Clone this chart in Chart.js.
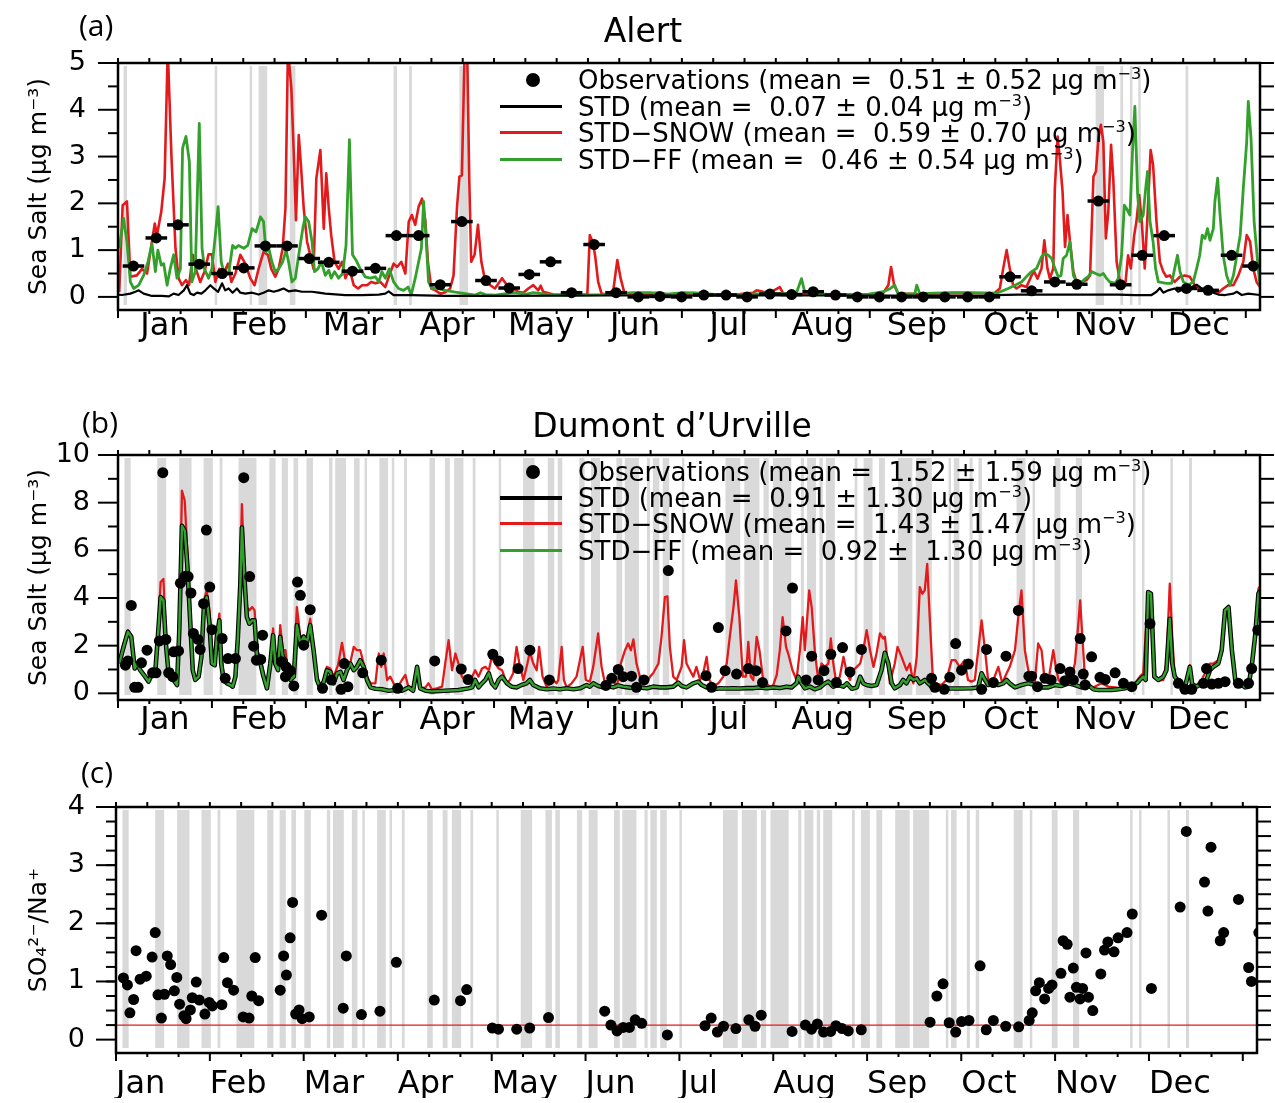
<!DOCTYPE html>
<html lang="en">
<head>
<meta charset="UTF-8">
<title>Sea salt at Alert and Dumont d'Urville</title>
<script src="https://cdn.jsdelivr.net/npm/chart.js"></script>
<style>
  body { margin: 0; background: #fff; }
  #page { position: relative; width: 1275px; height: 1103px; overflow: hidden; font-family: "DejaVu Sans", sans-serif; color: #000; }
  canvas { position: absolute; left: 0; }
  .tag { position: absolute; font: 30px/30px "Open Sans", sans-serif; }
  .title { position: absolute; font: 33px/33px "DejaVu Sans", sans-serif; transform: translateX(-50%); white-space: nowrap; }
  .leg { position: absolute; left: 578px; font: 26px/26px "DejaVu Sans", sans-serif; white-space: pre; }
  .leg sup { font-size: 0.62em; vertical-align: 0.6em; line-height: 0; }
  .swatch { position: absolute; left: 500px; width: 62px; height: 3px; }
  .dot { position: absolute; left: 526px; width: 14px; height: 14px; border-radius: 50%; background: #000; }
</style>
</head>
<body>
<div id="page">
  <canvas id="alertChart" width="1275" height="350" style="top:0"></canvas>
  <canvas id="dduChart" width="1275" height="350" style="top:390px"></canvas>
  <canvas id="ratioChart" width="1275" height="358" style="top:745px"></canvas>

  <!-- Panel (a) -->
  <div class="tag" style="left:79px; top:10px">(a)</div>
  <div class="title" style="left:643px; top:14px">Alert</div>
  <div class="dot" style="top:73px"></div>
  <div class="swatch" style="top:105px; background:#000"></div>
  <div class="swatch" style="top:131px; background:#e31a1c"></div>
  <div class="swatch" style="top:158px; background:#33a02c"></div>
  <div class="leg" style="top:67px">Observations (mean =  0.51 ± 0.52 μg m<sup>−3</sup>)</div>
  <div class="leg" style="top:94px">STD (mean =  0.07 ± 0.04 μg m<sup>−3</sup>)</div>
  <div class="leg" style="top:120px">STD−SNOW (mean =  0.59 ± 0.70 μg m<sup>−3</sup>)</div>
  <div class="leg" style="top:147px">STD−FF (mean =  0.46 ± 0.54 μg m<sup>−3</sup>)</div>

  <!-- Panel (b) -->
  <div class="tag" style="left:82px; top:407px">(b)</div>
  <div class="title" style="left:672px; top:409px">Dumont d’Urville</div>
  <div class="dot" style="top:465px"></div>
  <div class="swatch" style="top:496px; height:4px; background:#000"></div>
  <div class="swatch" style="top:522px; background:#e31a1c"></div>
  <div class="swatch" style="top:549px; background:#33a02c"></div>
  <div class="leg" style="top:459px">Observations (mean =  1.52 ± 1.59 μg m<sup>−3</sup>)</div>
  <div class="leg" style="top:485px">STD (mean =  0.91 ± 1.30 μg m<sup>−3</sup>)</div>
  <div class="leg" style="top:511px">STD−SNOW (mean =  1.43 ± 1.47 μg m<sup>−3</sup>)</div>
  <div class="leg" style="top:538px">STD−FF (mean =  0.92 ±  1.30 μg m<sup>−3</sup>)</div>

  <!-- Panel (c) -->
  <div class="tag" style="left:81px; top:757px">(c)</div>
</div>

<script>
// ---- axis data ----
const monthNames = ['Jan', 'Feb', 'Mar', 'Apr', 'May', 'Jun', 'Jul', 'Aug', 'Sep', 'Oct', 'Nov', 'Dec'];
const monthStarts = [0, 30.4, 60.8, 91.3, 121.7, 152.1, 182.5, 212.9, 243.3, 273.8, 304.2, 334.6, 365];
const xMax = 369.6;

// ---- (a) Alert ----
const alertObsDay = [5.0, 12.4, 19.4, 26.3, 33.7, 40.7, 47.7, 54.7, 61.9, 68.2,
  75.9, 83.3, 90.1, 97.3, 104.3, 111.3, 119.1, 126.6, 133.1, 140.0,
  146.8, 154.1, 161.2, 168.4, 175.4, 182.4, 189.6, 196.8, 203.6, 211.0,
  218.0, 225.0, 232.2, 239.3, 246.4, 253.6, 260.6, 267.6, 275.0, 282.0,
  288.7, 295.7, 303.2, 310.3, 317.3, 324.5, 331.5, 338.6, 345.8, 352.8,
  360.4, 367.4];
const alertObsVal = [0.66, 1.26, 1.54, 0.70, 0.50, 0.62, 1.09, 1.09, 0.82, 0.74,
  0.55, 0.61, 1.31, 1.31, 0.26, 1.61, 0.35, 0.19, 0.48, 0.75,
  0.09, 1.12, 0.09, 0.00, 0.01, 0.00, 0.04, 0.04, 0.00, 0.06,
  0.05, 0.11, 0.04, 0.00, 0.00, 0.00, 0.00, 0.00, 0.00, 0.00,
  0.43, 0.13, 0.32, 0.27, 2.05, 0.26, 0.89, 1.31, 0.18, 0.14,
  0.89, 0.66];
const alertObsHalfWeek = 3.5;

const alertStdDay = [0, 1.3, 4.0, 5.6, 6.7, 8.3, 11.0, 14.2, 16.4, 18.0,
  19.6, 21.3, 22.3, 23.4, 24.5, 25.6, 27.0, 28.3, 29.9, 31.0,
  32.4, 33.7, 34.7, 35.8, 37.1, 38.5, 39.6, 41.2, 43.4, 45.5,
  47.1, 48.8, 50.4, 52.0, 53.6, 55.2, 57.4, 59.5, 62.8, 64.9,
  67.1, 69.3, 73.6, 79.0, 84.4, 86.5, 87.6, 89.2, 95.1, 105.9,
  125.9, 160.0, 200.0, 250.0, 280.6, 283.8, 291.3, 302.2, 313.0, 323.7,
  329.1, 334.5, 336.1, 337.2, 338.3, 339.9, 342.0, 343.1, 345.3, 347.5,
  349.1, 350.7, 352.3, 354.5, 356.1, 358.3, 361.0, 362.1, 363.7, 365.8,
  369.6];
const alertStdVal = [0.05, 0.04, 0.07, 0.11, 0.14, 0.07, 0.02, 0.02, 0.01, 0.07,
  0.04, 0.14, 0.25, 0.07, 0.04, 0.09, 0.07, 0.14, 0.25, 0.18,
  0.11, 0.29, 0.14, 0.18, 0.09, 0.18, 0.09, 0.07, 0.09, 0.05,
  0.09, 0.14, 0.11, 0.14, 0.18, 0.12, 0.14, 0.11, 0.11, 0.09,
  0.07, 0.06, 0.04, 0.04, 0.05, 0.07, 0.12, 0.04, 0.04, 0.02,
  0.02, 0.03, 0.03, 0.03, 0.02, 0.04, 0.05, 0.05, 0.05, 0.05,
  0.04, 0.04, 0.11, 0.19, 0.09, 0.14, 0.18, 0.11, 0.18, 0.21,
  0.26, 0.18, 0.14, 0.09, 0.05, 0.04, 0.07, 0.11, 0.04, 0.07,
  0.04];

const alertSnowDay = [0.4, 1.5, 2.9, 4.0, 6.1, 7.8, 9.4, 11.9, 12.6, 14.0,
  15.1, 16.1, 17.3, 18.6, 19.6, 20.7, 22.0, 23.0, 24.2, 25.2,
  26.6, 28.0, 29.3, 30.4, 31.5, 32.8, 34.2, 35.6, 36.7, 38.0,
  39.6, 41.2, 42.8, 44.2, 45.5, 47.1, 48.5, 49.6, 50.9, 52.0,
  53.3, 54.2, 55.0, 56.1, 56.9, 57.6, 58.5, 59.2, 60.1, 61.2,
  62.2, 63.3, 64.2, 65.5, 66.6, 67.4, 68.2, 69.0, 70.1, 71.4,
  72.5, 73.6, 74.9, 76.3, 77.7, 79.0, 80.6, 81.9, 83.3, 84.9,
  86.5, 87.8, 89.2, 90.3, 91.7, 93.0, 94.1, 95.1, 96.2, 97.3,
  98.4, 99.5, 100.3, 101.4, 102.7, 104.3, 105.9, 107.5, 108.6, 109.7,
  110.5, 111.3, 112.2, 113.0, 113.7, 114.3, 115.4, 116.5, 117.6, 118.9,
  120.5, 122.0, 124.3, 125.9, 127.9, 129.5, 131.2, 132.8, 134.4, 136.0,
  136.8, 137.6, 140.9, 145.2, 151.9, 152.7, 153.6, 154.4, 155.4, 156.5,
  158.1, 160.3, 161.6, 162.7, 163.8, 165.7, 172.2, 174.3, 178.6, 186.2,
  192.6, 201.3, 205.6, 206.7, 208.8, 211.0, 214.2, 215.3, 222.8, 231.5,
  242.2, 247.7, 249.3, 250.2, 251.2, 252.5, 259.0, 269.8, 280.6, 283.8,
  285.4, 286.5, 287.6, 288.6, 289.7, 290.8, 292.4, 294.0, 295.7, 296.5,
  297.6, 298.9, 299.8, 300.8, 301.6, 302.7, 303.2, 304.1, 304.8, 305.7,
  306.5, 307.3, 308.1, 309.2, 310.2, 311.9, 313.5, 314.6, 315.7, 316.5,
  317.3, 318.1, 318.9, 319.7, 320.5, 321.4, 322.1, 323.2, 324.3, 325.3,
  326.1, 326.9, 327.8, 328.9, 329.6, 330.5, 331.3, 332.3, 333.2, 334.2,
  335.0, 336.1, 337.2, 338.3, 339.3, 340.4, 342.0, 343.7, 345.3, 346.9,
  348.5, 350.1, 351.8, 353.9, 356.1, 357.7, 359.3, 361.0, 362.6, 364.2,
  365.3, 366.4, 367.4, 368.5, 369.6];
const alertSnowVal = [0.10, 1.96, 2.04, 0.43, 0.46, 0.60, 0.50, 1.57, 1.32, 1.82,
  2.54, 5.30, 3.00, 1.04, 0.40, 0.25, 0.36, 0.25, 0.90, 0.60,
  0.32, 0.54, 0.91, 0.91, 0.32, 0.60, 0.50, 0.71, 0.32, 0.50,
  0.90, 0.71, 0.40, 0.25, 0.60, 0.96, 0.90, 0.60, 0.43, 0.60,
  1.04, 1.90, 5.30, 4.46, 3.04, 1.64, 3.46, 2.82, 1.90, 1.18,
  0.90, 0.60, 2.54, 3.14, 1.46, 2.64, 1.90, 1.32, 0.75, 0.60,
  0.75, 0.40, 0.60, 0.25, 0.18, 0.25, 0.25, 0.32, 0.29, 0.32,
  0.21, 0.46, 0.71, 0.64, 0.75, 0.50, 1.61, 1.75, 1.54, 1.93,
  2.10, 1.61, 0.75, 0.18, 0.14, 0.07, 0.10, 0.18, 0.46, 1.90,
  2.57, 2.60, 5.30, 5.30, 2.46, 0.75, 0.90, 1.54, 0.75, 0.32,
  0.25, 0.18, 0.40, 0.25, 0.18, 0.11, 0.09, 0.18, 0.25, 0.14,
  0.24, 0.11, 0.05, 0.04, 0.05, 1.32, 1.18, 0.89, 0.32, 0.07,
  0.05, 0.14, 0.79, 0.39, 0.11, 0.05, 0.06, 0.09, 0.05, 0.08,
  0.05, 0.06, 0.09, 0.14, 0.11, 0.09, 0.21, 0.07, 0.05, 0.05,
  0.05, 0.09, 0.25, 0.64, 0.25, 0.07, 0.06, 0.08, 0.08, 0.09,
  0.18, 0.61, 1.00, 0.61, 0.25, 0.18, 0.25, 0.21, 0.46, 0.54,
  0.39, 0.61, 1.21, 0.61, 0.39, 0.61, 2.32, 3.43, 2.96, 2.25,
  1.07, 1.75, 1.18, 0.54, 0.32, 0.32, 0.36, 0.46, 2.57, 2.68,
  3.39, 3.68, 3.32, 1.25, 1.82, 3.25, 2.54, 0.75, 0.32, 0.25,
  0.32, 0.89, 0.61, 1.32, 1.61, 2.18, 1.64, 0.61, 1.75, 3.14,
  2.82, 1.61, 0.75, 0.54, 0.43, 0.46, 0.32, 0.43, 0.46, 0.43,
  0.25, 0.18, 0.18, 0.11, 0.09, 0.18, 0.25, 0.25, 0.46, 0.75,
  1.32, 1.18, 0.61, 0.32, 0.21];

const alertFfDay = [0.4, 1.8, 2.9, 4.0, 5.1, 6.7, 8.3, 9.7, 11.0, 12.1,
  12.9, 14.0, 14.8, 15.9, 16.9, 18.0, 19.1, 20.2, 20.9, 22.0,
  23.1, 23.9, 25.0, 26.3, 27.2, 28.0, 29.3, 30.4, 31.5, 32.4,
  33.4, 34.5, 35.8, 37.1, 38.0, 39.0, 40.7, 42.0, 43.4, 44.7,
  46.1, 47.1, 47.9, 48.8, 49.8, 50.9, 52.0, 53.3, 54.4, 55.2,
  56.3, 57.4, 58.5, 59.8, 60.6, 61.7, 62.8, 63.6, 64.7, 65.8,
  67.1, 68.2, 69.0, 70.1, 71.4, 72.7, 73.8, 74.9, 75.9, 77.0,
  78.4, 80.0, 81.7, 83.3, 84.4, 85.4, 86.5, 87.8, 89.2, 90.8,
  92.4, 93.9, 94.9, 96.2, 97.3, 98.2, 98.9, 99.7, 100.5, 101.6,
  103.8, 105.9, 109.2, 112.4, 115.6, 117.3, 118.9, 122.1, 127.9, 132.2,
  134.4, 139.8, 145.2, 156.0, 166.8, 172.2, 177.6, 183.0, 188.4, 193.8,
  199.2, 204.5, 209.9, 215.3, 219.6, 221.2, 222.3, 226.0, 231.5, 242.2,
  247.7, 250.0, 251.4, 252.5, 254.7, 257.9, 258.5, 259.5, 264.4, 269.8,
  275.2, 280.6, 283.8, 286.0, 288.1, 290.3, 292.4, 294.4, 295.7, 297.3,
  298.9, 300.0, 301.1, 302.2, 303.2, 304.3, 305.2, 305.9, 307.0, 308.1,
  309.2, 310.2, 311.9, 313.0, 314.0, 315.1, 316.4, 317.8, 318.9, 320.0,
  321.0, 322.7, 323.7, 324.8, 325.7, 326.4, 327.5, 328.3, 329.1, 330.0,
  330.7, 331.8, 332.6, 333.2, 334.0, 335.0, 335.8, 336.7, 339.3, 341.0,
  342.0, 342.9, 343.7, 344.8, 346.4, 348.0, 349.1, 350.1, 350.9, 351.8,
  352.6, 353.4, 354.5, 355.0, 355.9, 356.6, 357.7, 358.8, 359.9, 361.0,
  362.1, 363.2, 364.2, 365.3, 365.8, 366.7, 367.7, 369.0, 369.6];
const alertFfVal = [1.04, 1.68, 1.18, 0.32, 0.18, 0.25, 0.46, 0.75, 1.14, 0.54,
  1.00, 0.68, 0.71, 0.25, 0.60, 0.90, 0.40, 0.60, 3.18, 3.43,
  2.89, 0.32, 0.54, 3.71, 1.04, 0.60, 0.40, 0.60, 1.32, 1.93,
  0.75, 0.46, 0.50, 1.10, 1.04, 1.10, 1.04, 1.10, 1.46, 1.39,
  1.71, 1.61, 0.96, 1.04, 0.75, 0.54, 0.60, 0.75, 1.00, 0.75,
  0.32, 0.40, 0.90, 1.46, 1.71, 1.61, 1.18, 0.54, 0.60, 0.75,
  0.46, 0.57, 0.40, 0.54, 0.40, 0.50, 1.10, 3.36, 0.90, 0.79,
  0.60, 0.43, 0.40, 0.43, 0.32, 0.54, 0.40, 0.60, 0.32, 0.18,
  0.14, 0.21, 0.04, 0.40, 0.75, 1.04, 2.04, 1.25, 0.32, 0.18,
  0.18, 0.14, 0.10, 0.07, 0.04, 0.09, 0.05, 0.04, 0.09, 0.06,
  0.09, 0.05, 0.04, 0.05, 0.09, 0.09, 0.06, 0.09, 0.08, 0.05,
  0.05, 0.06, 0.07, 0.07, 0.09, 0.39, 0.09, 0.07, 0.05, 0.05,
  0.11, 0.18, 0.25, 0.06, 0.06, 0.07, 0.25, 0.07, 0.08, 0.09,
  0.09, 0.08, 0.07, 0.12, 0.18, 0.25, 0.32, 0.46, 0.54, 0.61,
  0.86, 0.93, 0.89, 0.82, 0.61, 0.43, 0.46, 0.82, 0.89, 1.18,
  0.46, 0.32, 0.32, 0.39, 0.43, 0.54, 0.50, 0.46, 0.50, 0.39,
  0.32, 0.29, 0.39, 0.89, 1.96, 1.89, 1.75, 3.04, 4.07, 2.18,
  1.61, 1.75, 2.32, 2.68, 1.61, 1.18, 0.61, 0.32, 0.29, 0.29,
  0.61, 0.89, 0.54, 0.32, 0.25, 0.32, 0.61, 0.89, 1.32, 1.25,
  1.46, 1.21, 1.46, 2.04, 2.54, 1.82, 0.89, 0.46, 0.25, 0.46,
  0.89, 1.32, 2.32, 3.32, 4.18, 3.39, 1.61, 0.61, 0.25];

const alertBandStart = [1.8, 31.3, 42.6, 45.5, 55.6, 89.2, 94.2, 110.5, 316.4, 324.4, 327.5, 330.2, 345.5];
const alertBandEnd = [2.9, 32.1, 43.4, 48.3, 57.4, 90.3, 95.1, 113.3, 319.1, 325.3, 328.3, 331.0, 346.4];

// ---- (b) Dumont d'Urville ----
const dduObsDay = [2.4, 3.2, 4.3, 5.4, 6.5, 7.6, 9.4, 11.2, 12.3, 13.4,
  14.5, 15.5, 16.4, 17.7, 18.0, 19.6, 20.2, 21.6, 22.7, 23.6,
  24.4, 25.9, 26.6, 27.7, 28.6, 29.7, 30.4, 33.7, 34.7, 35.6,
  38.0, 40.7, 42.6, 43.9, 44.8, 46.2, 46.8, 52.9, 54.2, 54.4,
  55.8, 56.9, 58.1, 59.0, 60.1, 62.2, 66.2, 69.0, 72.2, 73.2,
  74.4, 79.2, 85.2, 90.5, 102.5, 111.1, 113.3, 121.3, 123.2, 129.5,
  133.3, 139.6, 157.9, 159.8, 161.9, 163.5, 166.2, 167.8, 170.2, 178.1,
  190.3, 192.1, 194.3, 196.5, 200.2, 204.0, 206.5, 208.6, 216.2, 218.3,
  222.7, 224.5, 226.6, 228.5, 230.7, 232.5, 234.5, 236.9, 240.6, 263.3,
  264.4, 267.4, 269.2, 271.1, 273.0, 275.2, 279.5, 281.1, 283.3, 287.4,
  291.4, 294.8, 295.7, 297.6, 300.0, 302.0, 304.9, 306.5, 308.1, 309.2,
  311.4, 312.4, 313.0, 315.1, 317.8, 319.5, 322.7, 325.4, 328.1, 334.0,
  343.2, 345.3, 347.5, 351.3, 352.3, 354.0, 356.1, 358.3, 362.6, 365.9,
  366.9, 368.9];
const dduObsVal = [1.18, 1.36, 3.69, 0.25, 0.25, 1.28, 1.81, 0.86, 0.86, 2.20,
  9.26, 2.26, 0.86, 0.70, 1.74, 1.78, 4.62, 4.90, 4.90, 4.21,
  2.51, 2.26, 1.84, 3.76, 6.85, 4.46, 2.67, 2.30, 0.63, 1.46,
  1.46, 9.05, 4.90, 1.98, 1.39, 1.42, 2.44, 1.32, 0.70, 1.11,
  0.95, 0.31, 4.67, 4.11, 2.02, 3.51, 0.21, 0.56, 0.17, 1.25,
  0.28, 0.86, 1.39, 0.21, 1.36, 1.02, 0.58, 1.64, 1.36, 1.04,
  1.81, 0.56, 0.33, 0.63, 1.00, 0.70, 0.72, 0.25, 0.56, 5.15,
  0.74, 0.25, 2.76, 0.95, 0.81, 1.04, 0.95, 0.45, 2.62, 4.42,
  0.56, 1.56, 0.56, 0.95, 1.64, 0.45, 1.92, 0.90, 1.84, 0.63,
  0.25, 0.17, 0.67, 2.09, 0.97, 1.23, 0.17, 1.84, 0.45, 1.56,
  3.48, 0.72, 0.72, 0.28, 0.63, 0.56, 1.04, 0.53, 0.90, 0.56,
  2.30, 0.81, 0.35, 1.53, 0.67, 0.58, 0.86, 0.42, 0.28, 2.92,
  0.42, 0.17, 0.17, 0.42, 1.04, 0.39, 0.42, 0.49, 0.42, 0.42,
  1.04, 2.65];

// STD and STD-FF share the same model days
const dduModelDay = [0.4, 1.8, 3.2, 4.3, 5.4, 6.1, 7.2, 8.8, 9.9, 11.0,
  12.1, 12.9, 13.8, 14.7, 15.5, 16.4, 17.3, 18.0, 19.1, 19.8,
  20.7, 21.6, 22.4, 23.3, 24.2, 25.0, 26.1, 27.0, 27.8, 28.7,
  29.6, 30.4, 31.3, 32.0, 32.8, 33.4, 34.2, 35.3, 36.4, 37.1,
  38.0, 38.8, 39.6, 40.1, 40.9, 41.7, 42.5, 43.4, 44.2, 45.0,
  46.1, 47.1, 48.2, 49.3, 50.2, 50.9, 51.8, 52.5, 53.3, 54.2,
  55.0, 55.8, 56.9, 57.9, 59.0, 60.1, 61.2, 62.2, 63.3, 64.4,
  65.5, 66.6, 67.6, 68.7, 69.8, 70.9, 72.0, 73.0, 74.1, 75.2,
  76.3, 77.3, 78.4, 79.5, 80.6, 81.7, 83.3, 85.4, 87.6, 89.8,
  91.9, 94.1, 95.5, 96.8, 97.8, 99.5, 101.6, 105.9, 110.2, 113.5,
  114.6, 115.6, 116.7, 117.8, 118.9, 120.0, 121.0, 122.1, 123.2, 124.3,
  125.9, 127.4, 129.0, 130.6, 132.2, 133.3, 134.4, 136.6, 138.7, 140.9,
  143.0, 145.2, 147.4, 149.5, 151.7, 152.7, 153.8, 155.4, 157.1, 158.7,
  160.3, 161.9, 163.5, 165.1, 166.8, 168.9, 171.1, 173.2, 175.4, 177.6,
  179.7, 181.3, 182.4, 184.0, 186.2, 187.8, 188.9, 190.5, 192.6, 194.8,
  197.0, 199.2, 201.3, 203.5, 205.6, 207.8, 209.9, 212.1, 214.2, 216.4,
  218.0, 219.6, 220.2, 221.2, 222.3, 223.9, 225.5, 227.2, 228.8, 229.9,
  231.5, 233.1, 234.8, 235.9, 237.5, 239.1, 240.2, 241.2, 242.3, 243.9,
  245.5, 247.1, 248.2, 249.3, 250.4, 251.4, 253.1, 254.1, 255.2, 256.3,
  257.4, 258.5, 259.5, 261.1, 262.2, 263.3, 264.4, 266.5, 269.8, 273.0,
  276.3, 278.4, 279.5, 280.6, 281.6, 283.3, 284.9, 286.5, 287.6, 288.6,
  290.3, 292.4, 294.6, 296.7, 298.9, 301.1, 303.2, 305.4, 307.6, 309.7,
  311.9, 314.0, 315.7, 317.3, 321.6, 323.7, 325.9, 328.1, 329.7, 330.7,
  331.8, 332.6, 333.4, 334.3, 335.4, 336.7, 338.3, 339.3, 340.4, 341.2,
  342.0, 343.7, 345.3, 346.9, 347.7, 349.1, 350.7, 352.3, 353.4, 354.5,
  356.1, 357.2, 358.3, 359.4, 360.5, 361.6, 362.6, 363.7, 364.8, 365.8,
  366.9, 368.0, 369.1, 369.6];
const dduFfVal = [1.25, 1.95, 2.58, 2.37, 1.04, 1.25, 0.97, 0.70, 0.49, 0.81,
  0.97, 2.37, 4.04, 3.90, 2.09, 0.77, 0.97, 0.56, 0.35, 2.51,
  7.03, 6.82, 5.43, 3.20, 0.97, 0.56, 0.70, 1.53, 3.62, 4.04,
  2.92, 1.25, 1.18, 2.37, 3.06, 1.25, 0.56, 0.42, 0.35, 0.28,
  0.70, 2.37, 4.60, 6.96, 4.87, 3.20, 2.92, 3.06, 3.06, 1.53,
  1.25, 0.70, 0.21, 1.25, 2.44, 1.25, 0.97, 2.37, 1.53, 1.39,
  0.70, 0.56, 0.70, 2.86, 2.09, 2.37, 2.16, 2.86, 1.81, 0.56,
  0.21, 0.49, 0.97, 0.90, 0.42, 0.84, 0.90, 0.56, 0.97, 1.25,
  0.97, 1.11, 1.39, 1.11, 0.56, 0.25, 0.19, 0.17, 0.11, 0.14,
  0.11, 0.25, 0.11, 1.11, 0.21, 0.11, 0.08, 0.11, 0.14, 0.21,
  0.25, 0.56, 0.25, 0.42, 0.56, 0.84, 0.42, 0.25, 0.56, 0.70,
  0.42, 0.28, 0.25, 0.35, 0.42, 0.56, 0.35, 0.21, 0.17, 0.20,
  0.17, 0.21, 0.17, 0.21, 0.35, 0.28, 0.42, 0.31, 0.25, 0.31,
  0.25, 0.33, 0.28, 0.25, 0.22, 0.25, 0.21, 0.28, 0.25, 0.25,
  0.28, 0.45, 0.31, 0.25, 0.42, 0.49, 0.35, 0.25, 0.17, 0.21,
  0.20, 0.21, 0.20, 0.22, 0.22, 0.25, 0.21, 0.25, 0.22, 0.28,
  0.25, 0.42, 0.70, 0.42, 0.21, 0.28, 0.17, 0.25, 0.42, 0.49,
  0.28, 0.35, 0.28, 0.42, 0.19, 0.25, 0.70, 0.42, 0.35, 0.31,
  0.35, 0.97, 1.70, 1.25, 0.42, 0.21, 0.35, 0.56, 0.42, 0.70,
  0.56, 0.63, 0.42, 0.56, 0.42, 0.28, 0.25, 0.21, 0.20, 0.20,
  0.21, 0.25, 0.84, 0.56, 0.35, 0.42, 0.35, 0.42, 0.56, 0.42,
  0.25, 0.35, 0.42, 0.35, 0.25, 0.25, 0.35, 0.31, 0.42, 0.35,
  0.25, 0.35, 0.17, 0.14, 0.14, 0.17, 0.21, 0.35, 0.42, 0.56,
  0.70, 0.56, 4.25, 4.18, 0.70, 0.56, 0.70, 0.97, 3.13, 1.25,
  0.70, 0.42, 0.25, 1.11, 0.35, 0.28, 0.42, 0.56, 0.97, 1.11,
  1.25, 1.81, 3.48, 3.62, 1.81, 0.56, 0.42, 0.35, 0.25, 0.28,
  1.11, 2.37, 4.18, 4.30];
const dduStdVal = [1.25, 1.95, 2.58, 2.37, 1.04, 1.25, 0.97, 0.70, 0.49, 0.81,
  0.97, 2.37, 4.04, 3.90, 2.09, 0.77, 0.97, 0.56, 0.35, 2.51,
  7.03, 6.82, 5.43, 3.20, 0.97, 0.56, 0.70, 1.53, 3.62, 4.04,
  2.92, 1.25, 1.18, 2.37, 3.06, 1.25, 0.56, 0.42, 0.35, 0.28,
  0.70, 2.37, 4.60, 6.96, 4.87, 3.20, 2.92, 3.06, 3.06, 1.53,
  1.25, 0.70, 0.21, 1.25, 2.44, 1.25, 0.97, 2.37, 1.53, 1.39,
  0.70, 0.56, 0.70, 2.86, 2.09, 2.37, 2.16, 2.86, 1.81, 0.56,
  0.21, 0.49, 0.97, 0.90, 0.42, 0.84, 0.90, 0.56, 0.97, 1.25,
  0.97, 1.11, 1.39, 1.11, 0.56, 0.25, 0.19, 0.17, 0.11, 0.14,
  0.11, 0.25, 0.11, 1.11, 0.21, 0.11, 0.08, 0.11, 0.14, 0.21,
  0.25, 0.56, 0.25, 0.42, 0.56, 0.84, 0.42, 0.25, 0.56, 0.70,
  0.42, 0.28, 0.25, 0.35, 0.42, 0.56, 0.35, 0.21, 0.17, 0.20,
  0.17, 0.21, 0.17, 0.21, 0.35, 0.28, 0.42, 0.31, 0.25, 0.31,
  0.25, 0.33, 0.28, 0.25, 0.22, 0.25, 0.21, 0.28, 0.25, 0.25,
  0.28, 0.45, 0.31, 0.25, 0.42, 0.49, 0.35, 0.25, 0.17, 0.21,
  0.20, 0.21, 0.20, 0.22, 0.22, 0.25, 0.21, 0.25, 0.22, 0.28,
  0.25, 0.42, 0.70, 0.42, 0.21, 0.28, 0.17, 0.25, 0.42, 0.49,
  0.28, 0.35, 0.28, 0.42, 0.19, 0.25, 0.70, 0.42, 0.35, 0.31,
  0.35, 0.97, 1.70, 1.25, 0.42, 0.21, 0.35, 0.56, 0.42, 0.70,
  0.56, 0.63, 0.42, 0.56, 0.42, 0.28, 0.25, 0.21, 0.20, 0.20,
  0.21, 0.25, 0.84, 0.56, 0.35, 0.42, 0.35, 0.42, 0.56, 0.42,
  0.25, 0.35, 0.42, 0.35, 0.25, 0.25, 0.35, 0.31, 0.42, 0.35,
  0.25, 0.35, 0.17, 0.14, 0.14, 0.17, 0.21, 0.35, 0.42, 0.56,
  0.70, 0.56, 4.25, 4.18, 0.70, 0.56, 0.70, 0.97, 3.13, 1.25,
  0.70, 0.42, 0.25, 1.11, 0.35, 0.28, 0.42, 0.56, 0.97, 1.11,
  1.25, 1.81, 3.48, 3.62, 1.81, 0.56, 0.42, 0.35, 0.25, 0.28,
  1.11, 2.37, 4.18, 4.30];

const dduSnowDay = [0.4, 1.8, 3.2, 4.3, 5.4, 6.1, 7.2, 8.8, 9.9, 11.0,
  12.1, 12.9, 13.8, 14.7, 15.5, 16.4, 17.3, 18.0, 19.1, 19.8,
  20.7, 21.6, 22.4, 23.3, 24.2, 25.0, 26.1, 27.0, 27.8, 28.7,
  29.6, 30.4, 31.3, 32.0, 32.8, 33.4, 34.2, 35.3, 36.4, 37.1,
  38.0, 38.8, 39.6, 40.1, 40.9, 41.7, 42.5, 43.4, 44.2, 45.0,
  46.1, 47.1, 48.2, 49.3, 50.2, 50.9, 51.8, 52.5, 53.3, 54.2,
  55.0, 55.8, 56.9, 57.9, 59.0, 60.1, 61.2, 62.2, 63.3, 64.4,
  65.5, 66.6, 67.6, 68.7, 69.8, 71.2, 72.5, 73.6, 74.9, 76.3,
  77.3, 78.4, 79.5, 80.6, 81.7, 83.3, 84.4, 85.2, 86.0, 87.1,
  88.1, 89.2, 90.3, 91.9, 93.0, 94.1, 95.7, 96.8, 97.8, 99.5,
  100.5, 101.6, 103.2, 104.9, 105.9, 107.0, 108.1, 109.2, 110.2, 111.3,
  112.4, 113.5, 114.6, 115.6, 116.7, 117.8, 118.9, 120.0, 121.0, 122.1,
  123.2, 124.3, 125.8, 126.8, 127.9, 129.0, 129.9, 131.2, 132.5, 133.3,
  134.4, 135.5, 136.3, 137.4, 138.7, 139.8, 140.9, 141.9, 142.5, 143.6,
  144.3, 145.2, 146.8, 148.4, 150.4, 151.4, 152.7, 153.8, 155.4, 156.5,
  157.6, 158.7, 159.8, 160.8, 161.4, 162.7, 164.1, 165.1, 166.0, 166.8,
  167.8, 168.9, 170.0, 171.1, 172.2, 173.2, 174.9, 175.9, 177.0, 177.8,
  178.6, 179.7, 180.8, 182.4, 183.2, 184.0, 185.1, 186.2, 187.2, 188.4,
  189.4, 190.5, 191.4, 192.6, 194.3, 195.9, 197.0, 198.0, 199.2, 200.0,
  201.1, 202.2, 203.2, 204.0, 204.8, 205.6, 206.7, 207.6, 208.8, 209.9,
  211.0, 212.1, 213.2, 214.2, 215.1, 216.2, 216.9, 218.3, 219.6, 220.7,
  221.6, 222.3, 223.7, 224.5, 225.5, 226.6, 227.7, 228.8, 229.9, 230.7,
  231.5, 232.5, 233.6, 234.8, 235.9, 236.9, 238.0, 239.1, 240.2, 241.2,
  242.3, 243.4, 244.5, 245.5, 246.6, 247.7, 248.2, 249.8, 251.4, 252.3,
  253.6, 255.2, 256.3, 257.4, 258.5, 259.5, 260.3, 261.1, 261.9, 262.7,
  263.8, 264.8, 266.5, 268.1, 269.8, 271.0, 272.4, 274.0, 275.1, 276.2,
  277.3, 278.4, 279.5, 280.6, 281.6, 283.3, 284.9, 286.2, 287.6, 288.6,
  290.3, 291.6, 292.4, 293.5, 294.6, 295.7, 296.7, 297.8, 298.9, 299.9,
  301.0, 302.7, 303.5, 304.4, 305.4, 307.0, 308.6, 309.7, 310.8, 311.4,
  312.1, 313.0, 315.1, 318.3, 320.5, 322.7, 324.8, 325.9, 327.5, 329.1,
  330.7, 331.8, 333.4, 334.3, 335.4, 336.7, 338.3, 339.3, 340.4, 341.2,
  342.0, 343.7, 345.3, 346.9, 347.7, 349.1, 350.7, 352.3, 353.4, 354.5,
  356.1, 357.2, 358.3, 359.4, 360.5, 361.6, 362.6, 363.7, 364.8, 365.8,
  366.9, 368.0, 369.1, 369.6];
const dduSnowVal = [1.39, 2.09, 2.65, 2.44, 1.11, 1.25, 0.97, 0.70, 0.49, 0.81,
  0.97, 2.50, 4.67, 4.80, 2.37, 0.84, 0.97, 0.56, 0.35, 2.60,
  8.50, 8.08, 6.00, 3.48, 1.11, 0.56, 0.70, 1.67, 3.90, 4.32,
  3.48, 1.81, 1.81, 2.51, 3.34, 1.81, 0.70, 0.56, 0.35, 0.28,
  0.70, 2.51, 5.20, 7.94, 5.15, 3.62, 3.48, 3.62, 3.48, 1.81,
  1.53, 0.84, 0.35, 1.39, 2.72, 1.39, 1.11, 2.86, 1.81, 1.81,
  0.84, 0.70, 1.11, 3.62, 2.37, 2.44, 2.30, 3.13, 1.95, 0.70,
  0.35, 0.56, 1.11, 1.04, 0.70, 1.18, 2.12, 1.25, 1.11, 1.95,
  1.81, 1.81, 1.25, 0.70, 0.42, 0.42, 1.67, 1.11, 1.67, 0.56,
  0.70, 0.42, 0.21, 0.56, 0.77, 0.21, 0.25, 1.11, 0.21, 0.25,
  0.42, 0.17, 0.21, 0.28, 1.25, 2.23, 0.97, 1.67, 1.25, 0.70,
  0.56, 0.42, 0.70, 0.97, 0.70, 1.04, 1.11, 0.97, 1.53, 1.25,
  1.04, 0.97, 0.42, 0.56, 0.84, 1.95, 1.25, 0.56, 1.25, 1.74,
  1.25, 0.97, 1.95, 0.70, 0.28, 0.42, 0.56, 0.42, 0.56, 1.95,
  0.56, 0.25, 0.42, 0.70, 1.95, 0.56, 0.49, 1.11, 2.51, 1.11,
  0.42, 0.42, 0.56, 0.42, 0.25, 1.25, 1.81, 2.09, 1.81, 2.26,
  1.25, 0.70, 0.56, 0.42, 0.70, 0.84, 1.25, 2.37, 4.04, 4.07,
  1.95, 0.70, 0.56, 1.11, 2.23, 1.25, 0.97, 0.70, 1.11, 0.56,
  0.84, 1.53, 0.56, 0.28, 0.42, 0.70, 1.25, 2.37, 3.62, 4.74,
  3.20, 0.70, 0.70, 2.16, 0.70, 0.56, 2.37, 1.81, 0.56, 0.42,
  0.25, 0.35, 0.77, 1.81, 3.20, 1.95, 1.67, 0.97, 0.56, 1.81,
  3.20, 1.81, 4.32, 3.62, 1.81, 0.56, 1.25, 1.11, 1.25, 2.30,
  1.25, 0.42, 0.70, 1.53, 0.84, 0.56, 0.97, 1.11, 1.25, 1.81,
  2.65, 1.81, 1.11, 1.67, 2.51, 2.30, 2.37, 0.42, 1.25, 1.95,
  1.53, 0.97, 1.25, 0.42, 1.53, 4.46, 4.18, 4.32, 5.43, 3.20,
  0.42, 0.42, 0.35, 0.56, 1.39, 1.39, 1.11, 1.39, 0.56, 0.49,
  0.56, 1.81, 3.06, 1.81, 0.56, 0.56, 1.11, 0.42, 0.84, 1.11,
  1.81, 3.48, 4.32, 1.81, 0.97, 0.56, 0.42, 2.09, 1.81, 0.56,
  0.42, 1.81, 1.11, 0.56, 0.42, 0.42, 0.70, 1.25, 2.92, 3.90,
  2.37, 0.56, 0.21, 0.42, 0.28, 0.25, 0.21, 0.42, 0.31, 0.42,
  0.70, 0.84, 4.18, 4.04, 0.70, 0.56, 0.56, 1.25, 4.60, 2.37,
  0.70, 0.56, 0.25, 1.18, 0.42, 0.35, 0.56, 0.97, 1.25, 1.25,
  1.39, 1.81, 3.48, 3.62, 1.81, 0.56, 0.42, 0.35, 0.25, 0.28,
  1.11, 2.37, 4.39, 4.50];

// Grey bands (same days in panels b and c)
const dduBandStart = [2.1, 12.7, 19.8, 27.7, 32.9, 39.0, 49.0, 53.0, 56.8, 61.0,
  68.3, 70.3, 76.4, 79.8, 84.6, 88.6, 92.6, 100.8, 105.8, 108.8,
  114.8, 123.2, 131.1, 139.1, 142.3, 149.3, 153.1, 161.3, 164.0, 171.2,
  173.1, 176.3, 182.5, 196.6, 202.7, 208.9, 212.0, 221.0, 223.0, 227.0,
  229.1, 238.4, 241.3, 246.3, 252.4, 258.2, 268.8, 270.5, 275.6, 278.5,
  290.8, 296.0, 303.1, 310.0, 328.5, 331.4, 340.6, 346.6];
const dduBandEnd = [4.1, 15.6, 23.8, 30.7, 33.8, 44.8, 51.0, 55.0, 58.3, 63.1,
  69.4, 73.8, 78.2, 80.6, 87.4, 89.3, 93.5, 102.6, 107.4, 111.8,
  115.7, 124.0, 134.8, 141.2, 143.8, 151.0, 156.0, 163.2, 168.6, 172.2,
  175.2, 178.4, 183.2, 201.4, 207.6, 210.6, 217.9, 222.0, 225.9, 228.1,
  232.0, 239.3, 244.2, 248.2, 257.1, 263.4, 269.4, 272.3, 276.6, 279.6,
  293.7, 296.8, 305.0, 312.0, 329.2, 332.2, 341.4, 347.6];

// ---- (c) SO4/Na ratio ----
const ratioDay = [2.4, 3.7, 4.5, 5.7, 6.5, 7.8, 9.8, 11.7, 12.7, 13.6,
  14.7, 15.7, 16.6, 17.7, 18.9, 19.7, 20.6, 22.0, 22.7, 24.1,
  24.7, 26.0, 27.0, 28.8, 30.2, 31.2, 34.3, 34.9, 36.1, 38.1,
  41.2, 43.1, 44.0, 45.1, 46.2, 53.2, 54.3, 55.2, 56.4, 57.2,
  58.2, 59.3, 60.3, 62.6, 66.6, 73.6, 74.6, 79.5, 85.5, 90.8,
  103.1, 111.6, 113.6, 121.9, 123.9, 129.8, 134.0, 140.1, 158.3, 160.3,
  162.3, 164.3, 166.3, 168.2, 170.3, 178.6, 190.8, 192.8, 194.8, 196.8,
  200.8, 205.0, 207.0, 209.0, 219.0, 223.3, 225.3, 227.2, 229.2, 231.5,
  233.2, 235.2, 237.2, 241.4, 263.7, 265.9, 267.9, 269.9, 272.0, 273.9,
  276.3, 279.9, 281.9, 284.2, 288.2, 292.4, 295.8, 296.8, 297.9, 299.1,
  300.8, 302.1, 303.2, 306.1, 306.8, 308.1, 309.0, 310.1, 311.1, 312.3,
  313.1, 314.2, 315.0, 316.4, 319.0, 320.2, 321.3, 323.3, 324.6, 327.5,
  329.2, 335.4, 344.7, 346.7, 352.6, 353.7, 354.7, 357.7, 358.8, 363.6,
  366.9, 367.8, 370.2];
const ratioVal = [1.06, 0.94, 0.46, 0.69, 1.53, 1.04, 1.09, 1.42, 1.84, 0.77,
  0.37, 0.78, 1.44, 1.29, 0.84, 1.07, 0.61, 0.41, 0.36, 0.51,
  0.72, 0.99, 0.68, 0.44, 0.64, 0.58, 0.60, 1.41, 0.98, 0.85,
  0.39, 0.37, 0.75, 1.41, 0.67, 0.85, 1.44, 1.11, 1.75, 2.36,
  0.44, 0.51, 0.36, 0.39, 2.14, 0.54, 1.44, 0.43, 0.49, 1.33,
  0.68, 0.67, 0.86, 0.20, 0.18, 0.18, 0.20, 0.38, 0.49, 0.25,
  0.15, 0.21, 0.21, 0.34, 0.28, 0.08, 0.24, 0.37, 0.13, 0.23,
  0.19, 0.34, 0.23, 0.42, 0.14, 0.25, 0.18, 0.27, 0.13, 0.14,
  0.24, 0.19, 0.15, 0.17, 0.30, 0.75, 0.96, 0.29, 0.13, 0.31,
  0.33, 1.27, 0.17, 0.33, 0.23, 0.22, 0.33, 0.46, 0.84, 0.98,
  0.70, 0.88, 0.94, 1.14, 1.70, 1.64, 0.73, 1.23, 0.90, 0.70,
  0.88, 1.49, 0.73, 0.50, 1.13, 1.54, 1.68, 1.51, 1.75, 1.84,
  2.16, 0.88, 2.28, 3.58, 2.71, 2.21, 3.31, 1.70, 1.84, 2.41,
  1.24, 1.00, 1.84];
const seawaterRatio = 0.25;

// ---- helpers ----
const RED = '#e31a1c', GREEN = '#33a02c';
const pts = (xs, ys) => xs.map((x, i) => ({ x, y: ys[i] }));
const monthCenters = monthNames.map((m, i) => (monthStarts[i] + monthStarts[i + 1]) / 2);
const xMinor = [];
monthNames.forEach((m, i) => {
  const w = monthStarts[i + 1] - monthStarts[i];
  xMinor.push(monthStarts[i] + w / 3, monthStarts[i] + 2 * w / 3);
});
const range = (a, b, s) => { const r = []; for (let v = a; v <= b + 1e-9; v += s) r.push(+v.toFixed(3)); return r; };

// frame, outward ticks on four sides, grey bands and weekly error bars
const framePlugin = {
  id: 'frame',
  beforeDatasetsDraw(chart, args, o) {
    const { ctx, chartArea: a } = chart;
    const x = chart.scales.x;
    ctx.save();
    ctx.fillStyle = '#d9d9d9';
    (o.bandStart || []).forEach((s, i) => {
      const x0 = x.getPixelForValue(s), x1 = x.getPixelForValue(o.bandEnd[i]);
      ctx.fillRect(x0, a.top + 3, Math.max(x1 - x0, 2.5), a.bottom - a.top - 8);
    });
    ctx.restore();
  },
  afterDatasetsDraw(chart, args, o) {
    const { ctx, chartArea: a } = chart;
    const x = chart.scales.x, y = chart.scales.y;
    const seg = (x0, y0, x1, y1) => { ctx.beginPath(); ctx.moveTo(x0, y0); ctx.lineTo(x1, y1); ctx.stroke(); };
    ctx.save();
    ctx.strokeStyle = '#000';
    if (o.errDay) {
      ctx.save();
      ctx.beginPath();
      ctx.rect(a.left, a.top, a.right - a.left, a.bottom - a.top);
      ctx.clip();
      ctx.lineWidth = 3.5;
      o.errDay.forEach((d, i) => {
        const py = y.getPixelForValue(o.errVal[i]);
        seg(x.getPixelForValue(d - o.errHalf), py, x.getPixelForValue(d + o.errHalf), py);
      });
      ctx.restore();
    }
    ctx.lineWidth = 2;
    o.yMajor.forEach(v => { const p = y.getPixelForValue(v); seg(a.left - 20, p, a.left, p); seg(a.right, p, a.right + 14, p); });
    o.yMinor.forEach(v => { const p = y.getPixelForValue(v); seg(a.left - 10, p, a.left, p); seg(a.right, p, a.right + 14, p); });
    monthStarts.forEach(v => { const p = x.getPixelForValue(v); seg(p, a.bottom, p, a.bottom + 8); seg(p, a.top, p, a.top - 5); });
    xMinor.forEach(v => { const p = x.getPixelForValue(v); seg(p, a.bottom, p, a.bottom + 4); seg(p, a.top, p, a.top - 5); });
    ctx.lineWidth = 2.5;
    ctx.strokeRect(a.left, a.top, a.right - a.left, a.bottom - a.top);
    ctx.restore();
  }
};

Chart.defaults.font.family = '"DejaVu Sans", sans-serif';
Chart.defaults.color = '#000';

function makeChart(id, c) {
  return new Chart(document.getElementById(id), {
    type: 'scatter',
    data: { datasets: c.datasets },
    options: {
      responsive: false,
      animation: false,
      events: [],
      layout: { padding: { top: c.padTop, right: c.padRight, bottom: 5, left: 0 } },
      plugins: { legend: { display: false }, tooltip: { enabled: false }, frame: c.frame },
      scales: {
        x: {
          type: 'linear', min: 0, max: xMax,
          grid: { display: false, drawTicks: false }, border: { display: false },
          afterBuildTicks: s => { s.ticks = c.xTicks.map(value => ({ value })); },
          afterFit: s => { s.height = c.xHeight; s.paddingLeft = 0; s.paddingRight = 0; },
          ticks: {
            autoSkip: false, maxRotation: 0, align: c.xAlign, padding: c.xPad,
            font: { size: 32, lineHeight: 1 }, callback: (v, i) => monthNames[i]
          }
        },
        y: {
          type: 'linear', min: c.yMin, max: c.yMax,
          grid: { display: false, drawTicks: false }, border: { display: false },
          afterBuildTicks: s => { s.ticks = c.frame.yMajor.map(value => ({ value })); },
          afterFit: s => { s.width = c.yWidth; s.paddingTop = 0; s.paddingBottom = 0; },
          ticks: { padding: c.yPad, font: { size: 27 }, callback: v => String(v) },
          title: { display: true, text: c.yTitle, font: { size: 25 }, padding: { top: 24, bottom: 0 } }
        }
      }
    },
    plugins: [framePlugin]
  });
}

const line = (label, data, color, width, order) => ({
  label, data, showLine: true, borderColor: color, borderWidth: width,
  pointRadius: 0, tension: 0, borderJoinStyle: 'round', order
});
const dots = (label, data, r) => ({
  label, data, showLine: false, pointRadius: r, pointBackgroundColor: '#000',
  pointBorderColor: '#000', pointBorderWidth: 0, order: 0
});

makeChart('alertChart', {
  padTop: 63, padRight: 15, xHeight: 35, xPad: 1, xAlign: 'center', xTicks: monthCenters,
  yWidth: 118, yPad: 32, yMin: -0.28, yMax: 5, yTitle: 'Sea Salt (μg m⁻³)',
  frame: {
    yMajor: range(0, 5, 1), yMinor: range(0.5, 4.5, 1),
    bandStart: alertBandStart, bandEnd: alertBandEnd,
    errDay: alertObsDay, errVal: alertObsVal, errHalf: alertObsHalfWeek
  },
  datasets: [
    dots('Observations', pts(alertObsDay, alertObsVal), 5.5),
    line('STD', pts(alertStdDay, alertStdVal), '#000', 2.2, 1),
    line('STD-FF', pts(alertFfDay, alertFfVal), GREEN, 2.8, 2),
    line('STD-SNOW', pts(alertSnowDay, alertSnowVal), RED, 2.6, 3)
  ]
});

makeChart('dduChart', {
  padTop: 65, padRight: 15, xHeight: 35, xPad: 5, xAlign: 'center', xTicks: monthCenters,
  yWidth: 118, yPad: 28, yMin: -0.28, yMax: 10, yTitle: 'Sea Salt (μg m⁻³)',
  frame: {
    yMajor: range(0, 10, 2), yMinor: range(1, 9, 2),
    bandStart: dduBandStart, bandEnd: dduBandEnd
  },
  datasets: [
    dots('Observations', pts(dduObsDay, dduObsVal), 5.5),
    line('STD-FF', pts(dduModelDay, dduFfVal), GREEN, 2.4, 1),
    line('STD', pts(dduModelDay, dduStdVal), '#000', 4.6, 2),
    line('STD-SNOW', pts(dduSnowDay, dduSnowVal), RED, 2.3, 3)
  ]
});

makeChart('ratioChart', {
  padTop: 62, padRight: 18, xHeight: 45, xPad: 16, xAlign: 'start', xTicks: monthStarts.slice(0, 12),
  yWidth: 116, yPad: 31, yMin: -0.23, yMax: 4, yTitle: 'SO₄²⁻/Na⁺',
  frame: {
    yMajor: range(0, 4, 1), yMinor: range(0.25, 3.75, 0.25),
    bandStart: dduBandStart, bandEnd: dduBandEnd
  },
  datasets: [
    dots('SO4/Na ratio', pts(ratioDay, ratioVal), 5.5),
    line('Sea water ratio', [{ x: 0, y: seawaterRatio }, { x: xMax, y: seawaterRatio }], RED, 1.4, 1)
  ]
});
</script>
</body>
</html>
